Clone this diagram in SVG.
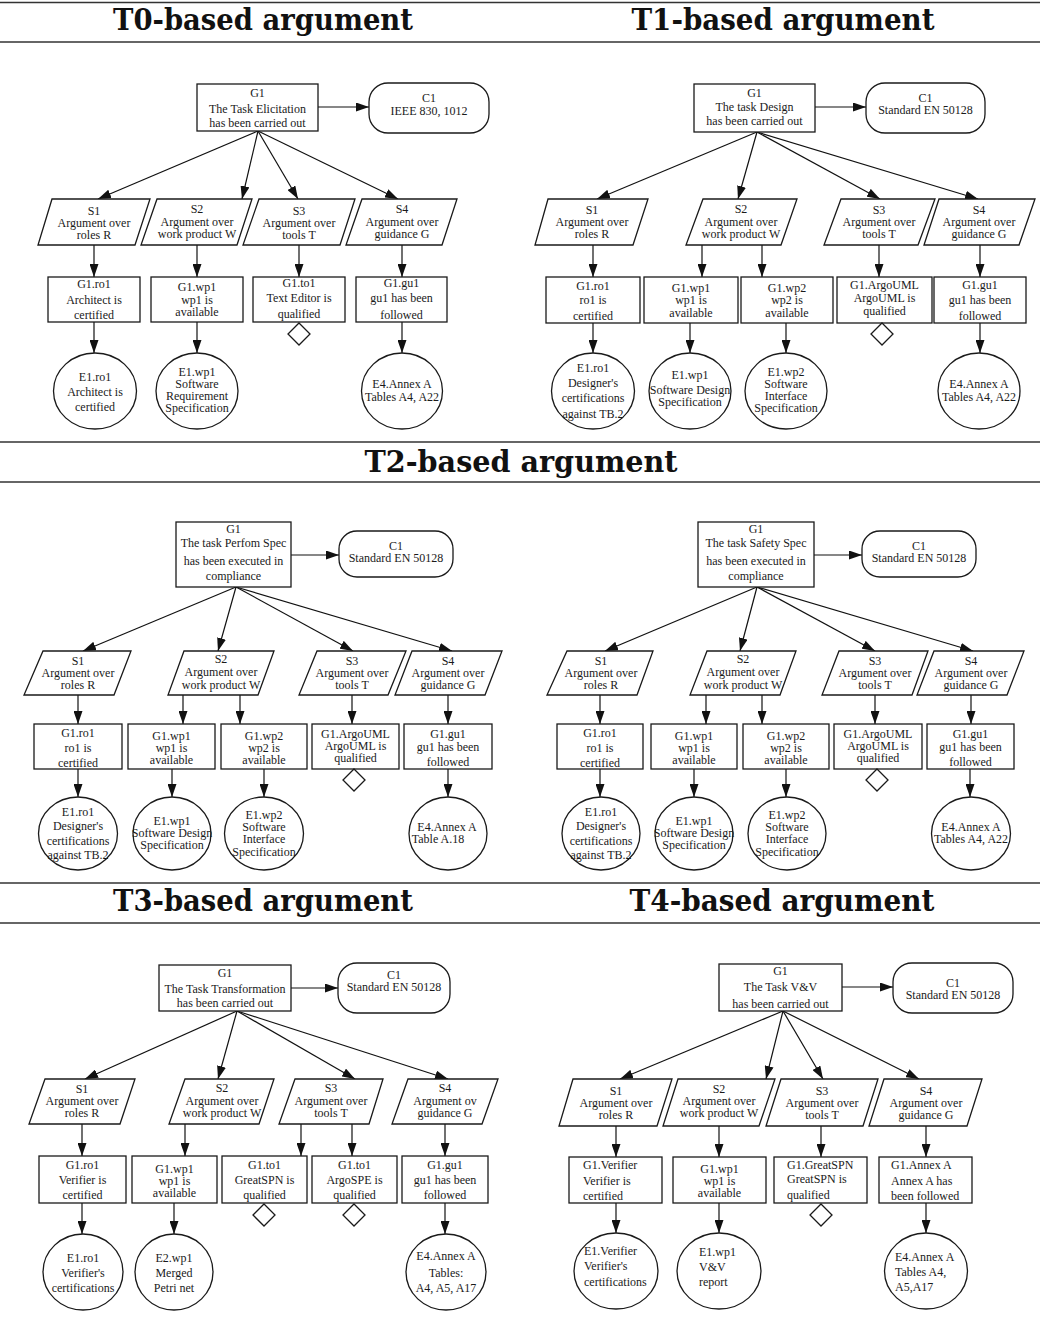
<svg xmlns="http://www.w3.org/2000/svg" width="1040" height="1318" viewBox="0 0 1040 1318">
<defs>
<marker id="ah" markerWidth="13" markerHeight="9" refX="13" refY="4.5" orient="auto" markerUnits="userSpaceOnUse">
<path d="M0,0 L13,4.5 L0,9 z" fill="#111"/>
</marker>
<style>
.n{fill:#fff;stroke:#1a1a1a;stroke-width:1.3}
.t{font-family:"Liberation Serif","Times New Roman",serif;font-size:12px;fill:#1a1a1a;text-anchor:middle}
.l{text-anchor:start}
.h{font-family:"DejaVu Serif",serif;font-weight:bold;font-size:29px;fill:#111;text-anchor:middle}
.rule{stroke:#333;stroke-width:1.3}
.cn path{fill:none;stroke:#111;stroke-width:1.2;marker-end:url(#ah)}
</style>
</defs>
<rect width="1040" height="1318" fill="#fff"/>

<!-- section headings and rules -->
<g id="headings">
<line class="rule" x1="0" y1="2.5" x2="1040" y2="2.5"/>
<line class="rule" x1="0" y1="42" x2="1040" y2="42"/>
<line class="rule" x1="0" y1="442" x2="1040" y2="442"/>
<line class="rule" x1="0" y1="482" x2="1040" y2="482"/>
<line class="rule" x1="0" y1="883" x2="1040" y2="883"/>
<line class="rule" x1="0" y1="923" x2="1040" y2="923"/>
<text class="h" x="263" y="30" textLength="300" lengthAdjust="spacingAndGlyphs">T0-based argument</text>
<text class="h" x="783" y="30" textLength="303" lengthAdjust="spacingAndGlyphs">T1-based argument</text>
<text class="h" x="521" y="472" textLength="313" lengthAdjust="spacingAndGlyphs">T2-based argument</text>
<text class="h" x="263" y="911" textLength="300" lengthAdjust="spacingAndGlyphs">T3-based argument</text>
<text class="h" x="782" y="911" textLength="305" lengthAdjust="spacingAndGlyphs">T4-based argument</text>
</g>

<!-- connectors -->
<g id="connectors" class="cn">
<!-- T0 -->
<path d="M318,107 L369,107"/>
<path d="M258,131 L98,199"/><path d="M258,131 L242,199"/><path d="M258,131 L298,199"/><path d="M258,131 L398,199"/>
<path d="M94,245 L94,277"/><path d="M197,245 L197,277"/><path d="M299,245 L299,277"/><path d="M402,245 L402,277"/>
<path d="M94,322 L94,353"/><path d="M197,322 L197,353"/><path d="M402,322 L402,353"/>
<!-- T1 -->
<path d="M815,107 L866,107"/>
<path d="M757,132 L597,199"/><path d="M757,132 L738,199"/><path d="M757,132 L880,199"/><path d="M757,132 L978,199"/>
<path d="M593,245 L593,277"/><path d="M702,245 L702,277"/><path d="M762,245 L762,277"/><path d="M879,245 L879,277"/><path d="M980,245 L980,277"/>
<path d="M593,323 L593,353"/><path d="M690,323 L690,353"/><path d="M786,323 L786,353"/><path d="M980,323 L980,353"/>
<!-- T2 left -->
<path d="M291,555 L339,555"/>
<path d="M236,587 L83,651"/><path d="M236,587 L218,651"/><path d="M236,587 L353,651"/><path d="M236,587 L452,651"/>
<path d="M78,695 L78,724"/><path d="M183,695 L183,724"/><path d="M240,695 L240,724"/><path d="M352,695 L352,724"/><path d="M448,695 L448,724"/>
<path d="M78,769 L78,797"/><path d="M172,769 L172,797"/><path d="M264,769 L264,797"/><path d="M448,769 L448,797"/>
<!-- T2 right -->
<path d="M814,555 L862,555"/>
<path d="M757,587 L605,651"/><path d="M757,587 L740,651"/><path d="M757,587 L875,651"/><path d="M757,587 L973,651"/>
<path d="M600,695 L600,724"/><path d="M706,695 L706,724"/><path d="M762,695 L762,724"/><path d="M875,695 L875,724"/><path d="M971,695 L971,724"/>
<path d="M600,769 L600,797"/><path d="M694,769 L694,797"/><path d="M786,769 L786,797"/><path d="M970,769 L970,797"/>
<!-- T3 -->
<path d="M291,988 L338,988"/>
<path d="M237,1011 L85,1079"/><path d="M237,1011 L218,1079"/><path d="M237,1011 L355,1079"/><path d="M237,1011 L448,1079"/>
<path d="M82,1124 L82,1156"/><path d="M185,1124 L185,1156"/><path d="M301,1124 L301,1156"/><path d="M352,1124 L352,1156"/><path d="M445,1124 L445,1156"/>
<path d="M82,1203 L82,1234"/><path d="M174,1203 L174,1234"/><path d="M445,1203 L445,1234"/>
<!-- T4 -->
<path d="M842,987 L893,987"/>
<path d="M783,1011 L620,1079"/><path d="M783,1011 L766,1079"/><path d="M783,1011 L823,1079"/><path d="M783,1011 L919,1079"/>
<path d="M616,1126 L616,1157"/><path d="M719,1126 L719,1157"/><path d="M821,1126 L821,1157"/><path d="M926,1126 L926,1157"/>
<path d="M616,1203 L616,1233"/><path d="M719,1203 L719,1233"/><path d="M926,1203 L926,1233"/>
</g>

<!-- ===== T0 ===== -->
<g id="t0-G1"><rect class="n" x="197" y="84" width="121" height="47"/><text class="t"><tspan x="257.5" y="97">G1</tspan><tspan x="257.5" y="113">The Task Elicitation</tspan><tspan x="257.5" y="127">has been carried out</tspan></text></g>
<g id="t0-C1"><rect class="n" x="369" y="83" width="120" height="50" rx="19"/><text class="t"><tspan x="429" y="102">C1</tspan><tspan x="429" y="115">IEEE 830, 1012</tspan></text></g>
<g id="t0-S1"><polygon class="n" points="52,199 150,199 135,245 38,245"/><text class="t"><tspan x="94" y="215">S1</tspan><tspan x="94" y="227">Argument over</tspan><tspan x="94" y="239">roles R</tspan></text></g>
<g id="t0-S2"><polygon class="n" points="157,199 252,199 237,245 141,245"/><text class="t"><tspan x="197" y="213">S2</tspan><tspan x="197" y="226">Argument over</tspan><tspan x="197" y="238">work product W</tspan></text></g>
<g id="t0-S3"><polygon class="n" points="259,199 355,199 340,245 243,245"/><text class="t"><tspan x="299" y="215">S3</tspan><tspan x="299" y="227">Argument over</tspan><tspan x="299" y="239">tools T</tspan></text></g>
<g id="t0-S4"><polygon class="n" points="362,199 457,199 442,245 346,245"/><text class="t"><tspan x="402" y="213">S4</tspan><tspan x="402" y="226">Argument over</tspan><tspan x="402" y="238">guidance G</tspan></text></g>
<g id="t0-G1ro1"><rect class="n" x="48" y="277" width="92" height="45"/><text class="t"><tspan x="94" y="288">G1.ro1</tspan><tspan x="94" y="304">Architect is</tspan><tspan x="94" y="319">certified</tspan></text></g>
<g id="t0-G1wp1"><rect class="n" x="151" y="277" width="92" height="45"/><text class="t"><tspan x="197" y="291">G1.wp1</tspan><tspan x="197" y="304">wp1 is</tspan><tspan x="197" y="316">available</tspan></text></g>
<g id="t0-G1to1"><rect class="n" x="253" y="277" width="92" height="45"/><text class="t"><tspan x="299" y="287">G1.to1</tspan><tspan x="299" y="302">Text Editor is</tspan><tspan x="299" y="318">qualified</tspan></text><polygon class="n" points="299,323 310,334 299,345 288,334"/></g>
<g id="t0-G1gu1"><rect class="n" x="356" y="277" width="91" height="45"/><text class="t"><tspan x="401.5" y="287">G1.gu1</tspan><tspan x="401.5" y="302">gu1 has been</tspan><tspan x="401.5" y="319">followed</tspan></text></g>
<g id="t0-E1ro1"><ellipse class="n" cx="95" cy="391" rx="41.5" ry="38"/><text class="t"><tspan x="95" y="381">E1.ro1</tspan><tspan x="95" y="396">Architect is</tspan><tspan x="95" y="411">certified</tspan></text></g>
<g id="t0-E1wp1"><ellipse class="n" cx="197" cy="391" rx="41" ry="38"/><text class="t"><tspan x="197" y="376">E1.wp1</tspan><tspan x="197" y="388">Software</tspan><tspan x="197" y="400">Requirement</tspan><tspan x="197" y="412">Specification</tspan></text></g>
<g id="t0-E4"><ellipse class="n" cx="402" cy="391" rx="40.5" ry="38"/><text class="t"><tspan x="402" y="388">E4.Annex A</tspan><tspan x="402" y="401">Tables A4, A22</tspan></text></g>

<!-- ===== T1 ===== -->
<g id="t1-G1"><rect class="n" x="694" y="84" width="121" height="48"/><text class="t"><tspan x="754.5" y="97">G1</tspan><tspan x="754.5" y="111">The task Design</tspan><tspan x="754.5" y="125">has been carried out</tspan></text></g>
<g id="t1-C1"><rect class="n" x="866" y="83" width="119" height="50" rx="19"/><text class="t"><tspan x="925.5" y="102">C1</tspan><tspan x="925.5" y="114">Standard EN 50128</tspan></text></g>
<g id="t1-S1"><polygon class="n" points="548,199 648,199 633,245 535,245"/><text class="t"><tspan x="592" y="214">S1</tspan><tspan x="592" y="226">Argument over</tspan><tspan x="592" y="238">roles R</tspan></text></g>
<g id="t1-S2"><polygon class="n" points="703,199 797,199 781,245 686,245"/><text class="t"><tspan x="741" y="213">S2</tspan><tspan x="741" y="226">Argument over</tspan><tspan x="741" y="238">work product W</tspan></text></g>
<g id="t1-S3"><polygon class="n" points="841,199 935,199 918,245 824,245"/><text class="t"><tspan x="879" y="214">S3</tspan><tspan x="879" y="226">Argument over</tspan><tspan x="879" y="238">tools T</tspan></text></g>
<g id="t1-S4"><polygon class="n" points="939,199 1035,199 1019,245 924,245"/><text class="t"><tspan x="979" y="214">S4</tspan><tspan x="979" y="226">Argument over</tspan><tspan x="979" y="238">guidance G</tspan></text></g>
<g id="t1-G1ro1"><rect class="n" x="546" y="277" width="94" height="46"/><text class="t"><tspan x="593" y="290">G1.ro1</tspan><tspan x="593" y="304">ro1 is</tspan><tspan x="593" y="320">certified</tspan></text></g>
<g id="t1-G1wp1"><rect class="n" x="644" y="277" width="94" height="46"/><text class="t"><tspan x="691" y="292">G1.wp1</tspan><tspan x="691" y="304">wp1 is</tspan><tspan x="691" y="317">available</tspan></text></g>
<g id="t1-G1wp2"><rect class="n" x="741" y="277" width="92" height="46"/><text class="t"><tspan x="787" y="292">G1.wp2</tspan><tspan x="787" y="304">wp2 is</tspan><tspan x="787" y="317">available</tspan></text></g>
<g id="t1-G1argo"><rect class="n" x="837" y="277" width="95" height="46"/><text class="t"><tspan x="884.5" y="289">G1.ArgoUML</tspan><tspan x="884.5" y="302">ArgoUML is</tspan><tspan x="884.5" y="315">qualified</tspan></text><polygon class="n" points="882,323 893,334 882,345 871,334"/></g>
<g id="t1-G1gu1"><rect class="n" x="934" y="277" width="92" height="46"/><text class="t"><tspan x="980" y="289">G1.gu1</tspan><tspan x="980" y="304">gu1 has been</tspan><tspan x="980" y="320">followed</tspan></text></g>
<g id="t1-E1ro1"><ellipse class="n" cx="593" cy="391" rx="41.5" ry="38"/><text class="t"><tspan x="593" y="372">E1.ro1</tspan><tspan x="593" y="387">Designer's</tspan><tspan x="593" y="402">certifications</tspan><tspan x="593" y="418">against TB.2</tspan></text></g>
<g id="t1-E1wp1"><ellipse class="n" cx="690" cy="391" rx="41" ry="38"/><text class="t"><tspan x="690" y="379">E1.wp1</tspan><tspan x="690" y="394">Software Design</tspan><tspan x="690" y="406">Specification</tspan></text></g>
<g id="t1-E1wp2"><ellipse class="n" cx="786" cy="391" rx="41" ry="38"/><text class="t"><tspan x="786" y="376">E1.wp2</tspan><tspan x="786" y="388">Software</tspan><tspan x="786" y="400">Interface</tspan><tspan x="786" y="412">Specification</tspan></text></g>
<g id="t1-E4"><ellipse class="n" cx="979" cy="391" rx="41" ry="38"/><text class="t"><tspan x="979" y="388">E4.Annex A</tspan><tspan x="979" y="401">Tables A4, A22</tspan></text></g>

<!-- ===== T2 (Perform Spec) ===== -->
<g id="t2a-G1"><rect class="n" x="176" y="522" width="115" height="65"/><text class="t"><tspan x="233.5" y="533">G1</tspan><tspan x="233.5" y="547">The task Perfom Spec</tspan><tspan x="233.5" y="565">has been executed in</tspan><tspan x="233.5" y="580">compliance</tspan></text></g>
<g id="t2a-C1"><rect class="n" x="339" y="531" width="114" height="46" rx="18"/><text class="t"><tspan x="396" y="550">C1</tspan><tspan x="396" y="562">Standard EN 50128</tspan></text></g>
<g id="t2a-S1"><polygon class="n" points="43,651 131,651 114,695 24,695"/><text class="t"><tspan x="78" y="665">S1</tspan><tspan x="78" y="677">Argument over</tspan><tspan x="78" y="689">roles R</tspan></text></g>
<g id="t2a-S2"><polygon class="n" points="184,651 274,651 258,695 168,695"/><text class="t"><tspan x="221" y="663">S2</tspan><tspan x="221" y="676">Argument over</tspan><tspan x="221" y="689">work product W</tspan></text></g>
<g id="t2a-S3"><polygon class="n" points="317,651 406,651 388,695 299,695"/><text class="t"><tspan x="352" y="665">S3</tspan><tspan x="352" y="677">Argument over</tspan><tspan x="352" y="689">tools T</tspan></text></g>
<g id="t2a-S4"><polygon class="n" points="412,651 502,651 485,695 395,695"/><text class="t"><tspan x="448" y="665">S4</tspan><tspan x="448" y="677">Argument over</tspan><tspan x="448" y="689">guidance G</tspan></text></g>
<g id="t2a-G1ro1"><rect class="n" x="34" y="724" width="88" height="45"/><text class="t"><tspan x="78" y="737">G1.ro1</tspan><tspan x="78" y="752">ro1 is</tspan><tspan x="78" y="767">certified</tspan></text></g>
<g id="t2a-G1wp1"><rect class="n" x="128" y="724" width="87" height="45"/><text class="t"><tspan x="171.5" y="740">G1.wp1</tspan><tspan x="171.5" y="752">wp1 is</tspan><tspan x="171.5" y="764">available</tspan></text></g>
<g id="t2a-G1wp2"><rect class="n" x="221" y="724" width="86" height="45"/><text class="t"><tspan x="264" y="740">G1.wp2</tspan><tspan x="264" y="752">wp2 is</tspan><tspan x="264" y="764">available</tspan></text></g>
<g id="t2a-G1argo"><rect class="n" x="312" y="724" width="87" height="45"/><text class="t"><tspan x="355.5" y="738">G1.ArgoUML</tspan><tspan x="355.5" y="750">ArgoUML is</tspan><tspan x="355.5" y="762">qualified</tspan></text><polygon class="n" points="354,769 365,780 354,791 343,780"/></g>
<g id="t2a-G1gu1"><rect class="n" x="404" y="724" width="88" height="45"/><text class="t"><tspan x="448" y="738">G1.gu1</tspan><tspan x="448" y="751">gu1 has been</tspan><tspan x="448" y="766">followed</tspan></text></g>
<g id="t2a-E1ro1"><ellipse class="n" cx="78" cy="833.5" rx="39.5" ry="36.5"/><text class="t"><tspan x="78" y="816">E1.ro1</tspan><tspan x="78" y="830">Designer's</tspan><tspan x="78" y="845">certifications</tspan><tspan x="78" y="859">against TB.2</tspan></text></g>
<g id="t2a-E1wp1"><ellipse class="n" cx="172" cy="833.5" rx="39" ry="36.5"/><text class="t"><tspan x="172" y="825">E1.wp1</tspan><tspan x="172" y="837">Software Design</tspan><tspan x="172" y="849">Specification</tspan></text></g>
<g id="t2a-E1wp2"><ellipse class="n" cx="264" cy="833.5" rx="39.5" ry="36.5"/><text class="t"><tspan x="264" y="819">E1.wp2</tspan><tspan x="264" y="831">Software</tspan><tspan x="264" y="843">Interface</tspan><tspan x="264" y="856">Specification</tspan></text></g>
<g id="t2a-E4"><ellipse class="n" cx="448" cy="833.5" rx="39" ry="36.5"/><text class="t"><tspan x="447" y="831">E4.Annex A</tspan><tspan x="438" y="843">Table A.18</tspan></text></g>

<!-- ===== T2 (Safety Spec) ===== -->
<g id="t2b-G1"><rect class="n" x="698" y="522" width="116" height="65"/><text class="t"><tspan x="756" y="533">G1</tspan><tspan x="756" y="547">The task Safety Spec</tspan><tspan x="756" y="565">has been executed in</tspan><tspan x="756" y="580">compliance</tspan></text></g>
<g id="t2b-C1"><rect class="n" x="862" y="531" width="114" height="46" rx="18"/><text class="t"><tspan x="919" y="550">C1</tspan><tspan x="919" y="562">Standard EN 50128</tspan></text></g>
<g id="t2b-S1"><polygon class="n" points="567,651 653,651 637,695 547,695"/><text class="t"><tspan x="601" y="665">S1</tspan><tspan x="601" y="677">Argument over</tspan><tspan x="601" y="689">roles R</tspan></text></g>
<g id="t2b-S2"><polygon class="n" points="707,651 796,651 780,695 690,695"/><text class="t"><tspan x="743" y="663">S2</tspan><tspan x="743" y="676">Argument over</tspan><tspan x="743" y="689">work product W</tspan></text></g>
<g id="t2b-S3"><polygon class="n" points="839,651 928,651 912,695 822,695"/><text class="t"><tspan x="875" y="665">S3</tspan><tspan x="875" y="677">Argument over</tspan><tspan x="875" y="689">tools T</tspan></text></g>
<g id="t2b-S4"><polygon class="n" points="934,651 1024,651 1007,695 917,695"/><text class="t"><tspan x="971" y="665">S4</tspan><tspan x="971" y="677">Argument over</tspan><tspan x="971" y="689">guidance G</tspan></text></g>
<g id="t2b-G1ro1"><rect class="n" x="557" y="724" width="86" height="45"/><text class="t"><tspan x="600" y="737">G1.ro1</tspan><tspan x="600" y="752">ro1 is</tspan><tspan x="600" y="767">certified</tspan></text></g>
<g id="t2b-G1wp1"><rect class="n" x="651" y="724" width="86" height="45"/><text class="t"><tspan x="694" y="740">G1.wp1</tspan><tspan x="694" y="752">wp1 is</tspan><tspan x="694" y="764">available</tspan></text></g>
<g id="t2b-G1wp2"><rect class="n" x="743" y="724" width="86" height="45"/><text class="t"><tspan x="786" y="740">G1.wp2</tspan><tspan x="786" y="752">wp2 is</tspan><tspan x="786" y="764">available</tspan></text></g>
<g id="t2b-G1argo"><rect class="n" x="834" y="724" width="88" height="45"/><text class="t"><tspan x="878" y="738">G1.ArgoUML</tspan><tspan x="878" y="750">ArgoUML is</tspan><tspan x="878" y="762">qualified</tspan></text><polygon class="n" points="877,769 888,780 877,791 866,780"/></g>
<g id="t2b-G1gu1"><rect class="n" x="927" y="724" width="87" height="45"/><text class="t"><tspan x="970.5" y="738">G1.gu1</tspan><tspan x="970.5" y="751">gu1 has been</tspan><tspan x="970.5" y="766">followed</tspan></text></g>
<g id="t2b-E1ro1"><ellipse class="n" cx="601" cy="833.5" rx="39" ry="36.5"/><text class="t"><tspan x="601" y="816">E1.ro1</tspan><tspan x="601" y="830">Designer's</tspan><tspan x="601" y="845">certifications</tspan><tspan x="601" y="859">against TB.2</tspan></text></g>
<g id="t2b-E1wp1"><ellipse class="n" cx="694" cy="833.5" rx="39" ry="36.5"/><text class="t"><tspan x="694" y="825">E1.wp1</tspan><tspan x="694" y="837">Software Design</tspan><tspan x="694" y="849">Specification</tspan></text></g>
<g id="t2b-E1wp2"><ellipse class="n" cx="787" cy="833.5" rx="39" ry="36.5"/><text class="t"><tspan x="787" y="819">E1.wp2</tspan><tspan x="787" y="831">Software</tspan><tspan x="787" y="843">Interface</tspan><tspan x="787" y="856">Specification</tspan></text></g>
<g id="t2b-E4"><ellipse class="n" cx="971" cy="833.5" rx="39.5" ry="36.5"/><text class="t"><tspan x="971" y="831">E4.Annex A</tspan><tspan x="971" y="843">Tables A4, A22</tspan></text></g>

<!-- ===== T3 ===== -->
<g id="t3-G1"><rect class="n" x="159" y="965" width="132" height="46"/><text class="t"><tspan x="225" y="977">G1</tspan><tspan x="225" y="993">The Task Transformation</tspan><tspan x="225" y="1007">has been carried out</tspan></text></g>
<g id="t3-C1"><rect class="n" x="338" y="963" width="112" height="50" rx="19"/><text class="t"><tspan x="394" y="979">C1</tspan><tspan x="394" y="991">Standard EN 50128</tspan></text></g>
<g id="t3-S1"><polygon class="n" points="45,1079 135,1079 120,1124 29,1124"/><text class="t"><tspan x="82" y="1093">S1</tspan><tspan x="82" y="1105">Argument over</tspan><tspan x="82" y="1117">roles R</tspan></text></g>
<g id="t3-S2"><polygon class="n" points="185,1079 274,1079 259,1124 169,1124"/><text class="t"><tspan x="222" y="1092">S2</tspan><tspan x="222" y="1105">Argument over</tspan><tspan x="222" y="1117">work product W</tspan></text></g>
<g id="t3-S3"><polygon class="n" points="295,1079 383,1079 369,1124 279,1124"/><text class="t"><tspan x="331" y="1092">S3</tspan><tspan x="331" y="1105">Argument over</tspan><tspan x="331" y="1117">tools T</tspan></text></g>
<g id="t3-S4"><polygon class="n" points="408,1079 498,1079 482,1124 392,1124"/><text class="t"><tspan x="445" y="1092">S4</tspan><tspan x="445" y="1105">Argument ov</tspan><tspan x="445" y="1117">guidance G</tspan></text></g>
<g id="t3-G1ro1"><rect class="n" x="39" y="1156" width="87" height="47"/><text class="t"><tspan x="82.5" y="1169">G1.ro1</tspan><tspan x="82.5" y="1184">Verifier is</tspan><tspan x="82.5" y="1199">certified</tspan></text></g>
<g id="t3-G1wp1"><rect class="n" x="132" y="1156" width="85" height="47"/><text class="t"><tspan x="174.5" y="1173">G1.wp1</tspan><tspan x="174.5" y="1185">wp1 is</tspan><tspan x="174.5" y="1197">available</tspan></text></g>
<g id="t3-G1to1a"><rect class="n" x="222" y="1156" width="85" height="47"/><text class="t"><tspan x="264.5" y="1169">G1.to1</tspan><tspan x="264.5" y="1184">GreatSPN is</tspan><tspan x="264.5" y="1199">qualified</tspan></text><polygon class="n" points="264,1204 275,1215 264,1226 253,1215"/></g>
<g id="t3-G1to1b"><rect class="n" x="312" y="1156" width="85" height="47"/><text class="t"><tspan x="354.5" y="1169">G1.to1</tspan><tspan x="354.5" y="1184">ArgoSPE is</tspan><tspan x="354.5" y="1199">qualified</tspan></text><polygon class="n" points="354,1204 365,1215 354,1226 343,1215"/></g>
<g id="t3-G1gu1"><rect class="n" x="402" y="1156" width="86" height="47"/><text class="t"><tspan x="445" y="1169">G1.gu1</tspan><tspan x="445" y="1184">gu1 has been</tspan><tspan x="445" y="1199">followed</tspan></text></g>
<g id="t3-E1ro1"><ellipse class="n" cx="83" cy="1272" rx="40" ry="38"/><text class="t"><tspan x="83" y="1262">E1.ro1</tspan><tspan x="83" y="1277">Verifier's</tspan><tspan x="83" y="1292">certifications</tspan></text></g>
<g id="t3-E2wp1"><ellipse class="n" cx="174" cy="1272" rx="39" ry="38"/><text class="t"><tspan x="174" y="1262">E2.wp1</tspan><tspan x="174" y="1277">Merged</tspan><tspan x="174" y="1292">Petri net</tspan></text></g>
<g id="t3-E4"><ellipse class="n" cx="446" cy="1272" rx="40" ry="38"/><text class="t"><tspan x="446" y="1260">E4.Annex A</tspan><tspan x="446" y="1277">Tables:</tspan><tspan x="446" y="1292">A4, A5, A17</tspan></text></g>

<!-- ===== T4 ===== -->
<g id="t4-G1"><rect class="n" x="719" y="964" width="123" height="47"/><text class="t"><tspan x="780.5" y="975">G1</tspan><tspan x="780.5" y="991">The Task V&amp;V</tspan><tspan x="780.5" y="1008">has been carried out</tspan></text></g>
<g id="t4-C1"><rect class="n" x="893" y="963" width="120" height="50" rx="19"/><text class="t"><tspan x="953" y="987">C1</tspan><tspan x="953" y="999">Standard EN 50128</tspan></text></g>
<g id="t4-S1"><polygon class="n" points="573,1079 672,1079 657,1126 559,1126"/><text class="t"><tspan x="616" y="1095">S1</tspan><tspan x="616" y="1107">Argument over</tspan><tspan x="616" y="1119">roles R</tspan></text></g>
<g id="t4-S2"><polygon class="n" points="678,1079 775,1079 759,1126 663,1126"/><text class="t"><tspan x="719" y="1093">S2</tspan><tspan x="719" y="1105">Argument over</tspan><tspan x="719" y="1117">work product W</tspan></text></g>
<g id="t4-S3"><polygon class="n" points="781,1079 878,1079 863,1126 766,1126"/><text class="t"><tspan x="822" y="1095">S3</tspan><tspan x="822" y="1107">Argument over</tspan><tspan x="822" y="1119">tools T</tspan></text></g>
<g id="t4-S4"><polygon class="n" points="884,1079 982,1079 967,1126 869,1126"/><text class="t"><tspan x="926" y="1095">S4</tspan><tspan x="926" y="1107">Argument over</tspan><tspan x="926" y="1119">guidance G</tspan></text></g>
<g id="t4-G1ver"><rect class="n" x="569" y="1157" width="93" height="46"/><text class="t l"><tspan x="583" y="1169">G1.Verifier</tspan><tspan x="583" y="1185">Verifier is</tspan><tspan x="583" y="1200">certified</tspan></text></g>
<g id="t4-G1wp1"><rect class="n" x="673" y="1157" width="93" height="46"/><text class="t"><tspan x="719.5" y="1173">G1.wp1</tspan><tspan x="719.5" y="1185">wp1 is</tspan><tspan x="719.5" y="1197">available</tspan></text></g>
<g id="t4-G1gspn"><rect class="n" x="774" y="1157" width="93" height="46"/><text class="t l"><tspan x="787" y="1169">G1.GreatSPN</tspan><tspan x="787" y="1183">GreatSPN is</tspan><tspan x="787" y="1199">qualified</tspan></text><polygon class="n" points="821,1204 832,1215 821,1226 810,1215"/></g>
<g id="t4-G1annex"><rect class="n" x="879" y="1157" width="93" height="46"/><text class="t l"><tspan x="891" y="1169">G1.Annex A</tspan><tspan x="891" y="1185">Annex A has</tspan><tspan x="891" y="1200">been followed</tspan></text></g>
<g id="t4-E1ver"><ellipse class="n" cx="616" cy="1271" rx="42" ry="38"/><text class="t l"><tspan x="584" y="1255">E1.Verifier</tspan><tspan x="584" y="1270">Verifier's</tspan><tspan x="584" y="1286">certifications</tspan></text></g>
<g id="t4-E1wp1"><ellipse class="n" cx="719" cy="1271" rx="42" ry="38"/><text class="t l"><tspan x="699" y="1256">E1.wp1</tspan><tspan x="699" y="1271">V&amp;V</tspan><tspan x="699" y="1286">report</tspan></text></g>
<g id="t4-E4"><ellipse class="n" cx="926" cy="1271" rx="41.5" ry="38"/><text class="t l"><tspan x="895" y="1261">E4.Annex A</tspan><tspan x="895" y="1276">Tables A4,</tspan><tspan x="895" y="1291">A5,A17</tspan></text></g>
</svg>
